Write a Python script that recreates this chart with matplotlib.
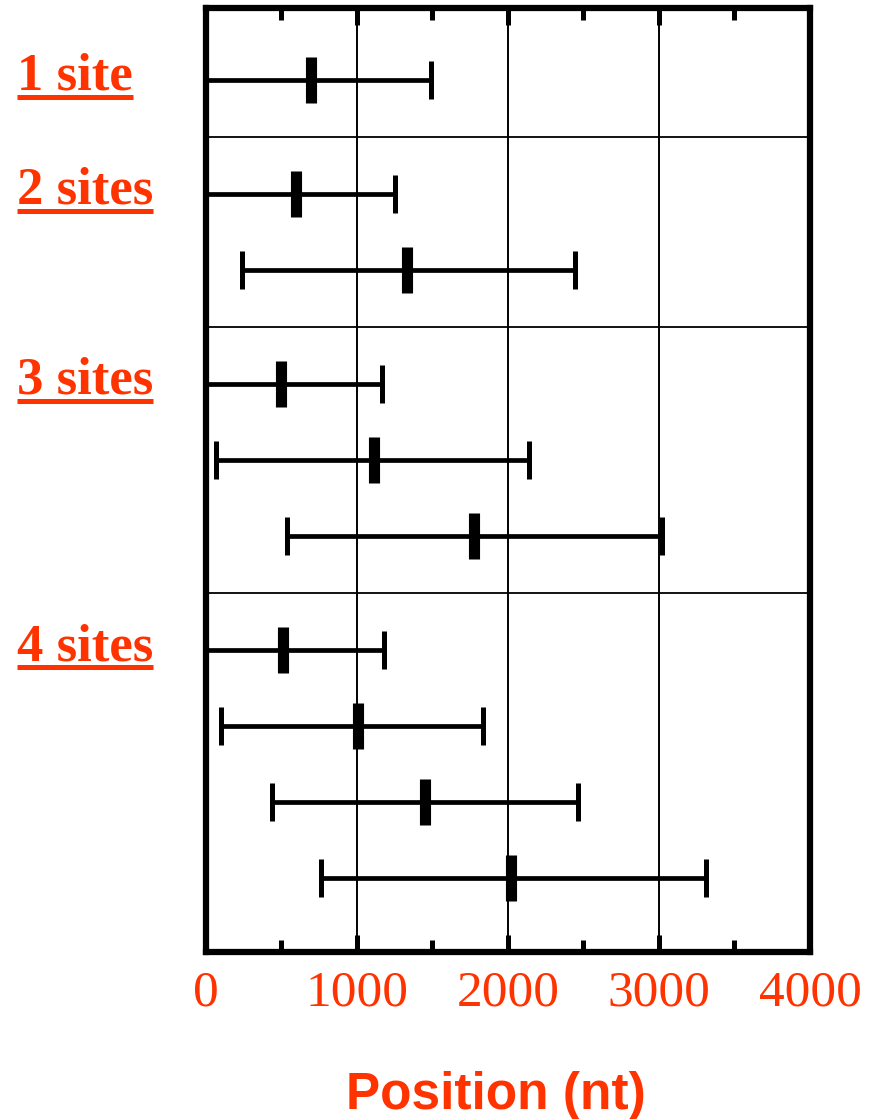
import matplotlib
matplotlib.use('Agg')
import matplotlib.pyplot as plt
from matplotlib.lines import Line2D
import numpy as np

# 数据：每组位点的位置 (nt)
groups = ['1 site', '2 sites', '3 sites', '4 sites']
n_sites = [1, 2, 3, 4]
centers = [695, 596, 1331, 497, 1113, 1775, 510, 1007, 1450, 2020]
lows = [0, 0, 238, 0, 66, 536, 0, 99, 437, 762]
highs = [1490, 1252, 2444, 1166, 2139, 3020, 1179, 1834, 2464, 3311]
xticks = [0, 1000, 2000, 3000, 4000]

red = '#ff3300'
gap = 1.5  # 组间距

# 行位置
rows = []
y = 0.0
for g, n in enumerate(n_sites):
    if g > 0:
        y += gap - 1
    for i in range(n):
        rows.append(y)
        y += 1
rows = np.array(rows)
first_rows = []
k = 0
for n in n_sites:
    first_rows.append(rows[k])
    k += n
seps = [(rows[sum(n_sites[:g]) - 1] + rows[sum(n_sites[:g])]) / 2 for g in range(1, len(n_sites))]

fig = plt.figure(figsize=(8.75, 11.19), dpi=100)
ax = fig.add_axes([0.2354, 0.1493, 0.6903, 0.8435])

c = np.array(centers)
xerr = [c - np.array(lows), np.array(highs) - c]

for xv in [1000, 2000, 3000]:
    ax.axvline(xv, color='black', lw=1.4, zorder=1)
for s in seps:
    ax.axhline(s, color='black', lw=1.3, zorder=1)

ax.errorbar(c, rows, xerr=xerr, fmt='none', ecolor='black', elinewidth=3.4,
            capsize=13.5, capthick=3.6, zorder=3)
ax.plot(c, rows, ls='none', marker='|', ms=33, mew=8, color='black', zorder=4)

ax.set_xlim(0, 4000)
ax.set_ylim(11.47, -0.947)
ax.set_yticks([])
ax.set_xticks(xticks)
ax.set_xticks(np.arange(500, 4000, 1000), minor=True)
ax.tick_params(axis='x', which='both', direction='in', top=True, bottom=True, width=3.6,
               colors='black', labelcolor=red, pad=13)
ax.tick_params(axis='x', which='major', length=12)
ax.tick_params(axis='x', which='minor', length=8.5)
for lab in ax.get_xticklabels():
    lab.set_fontfamily('Liberation Serif')
    lab.set_fontsize(37)
for sp in ax.spines.values():
    sp.set_linewidth(4.5)

ax.set_xlabel('Position (nt)', fontfamily='Liberation Sans', fontweight='bold',
              fontsize=37, color=red, va='center')
ax.xaxis.set_label_coords(0.48, -0.152)

# 组标签（带下划线）
texts = []
for name, r in zip(groups, first_rows):
    t = ax.text(17 / 875, r + 0.13, name, transform=matplotlib.transforms.blended_transform_factory(fig.transFigure, ax.transData),
                fontfamily='Liberation Serif', fontweight='bold', fontsize=38, color=red,
                ha='left', va='baseline')
    texts.append((t, r + 0.13))

fig.canvas.draw()
inv = fig.transFigure.inverted()
for t, yb in texts:
    bb = t.get_window_extent()
    base = ax.transData.transform((0, yb))[1]
    yl = base - 7
    p0 = inv.transform((bb.x0, yl))
    p1 = inv.transform((bb.x1, yl))
    fig.add_artist(Line2D([p0[0], p1[0]], [p0[1], p1[1]], color=red, lw=3.6,
                          solid_capstyle='butt', transform=fig.transFigure))

fig.savefig('out.png', dpi=100)
